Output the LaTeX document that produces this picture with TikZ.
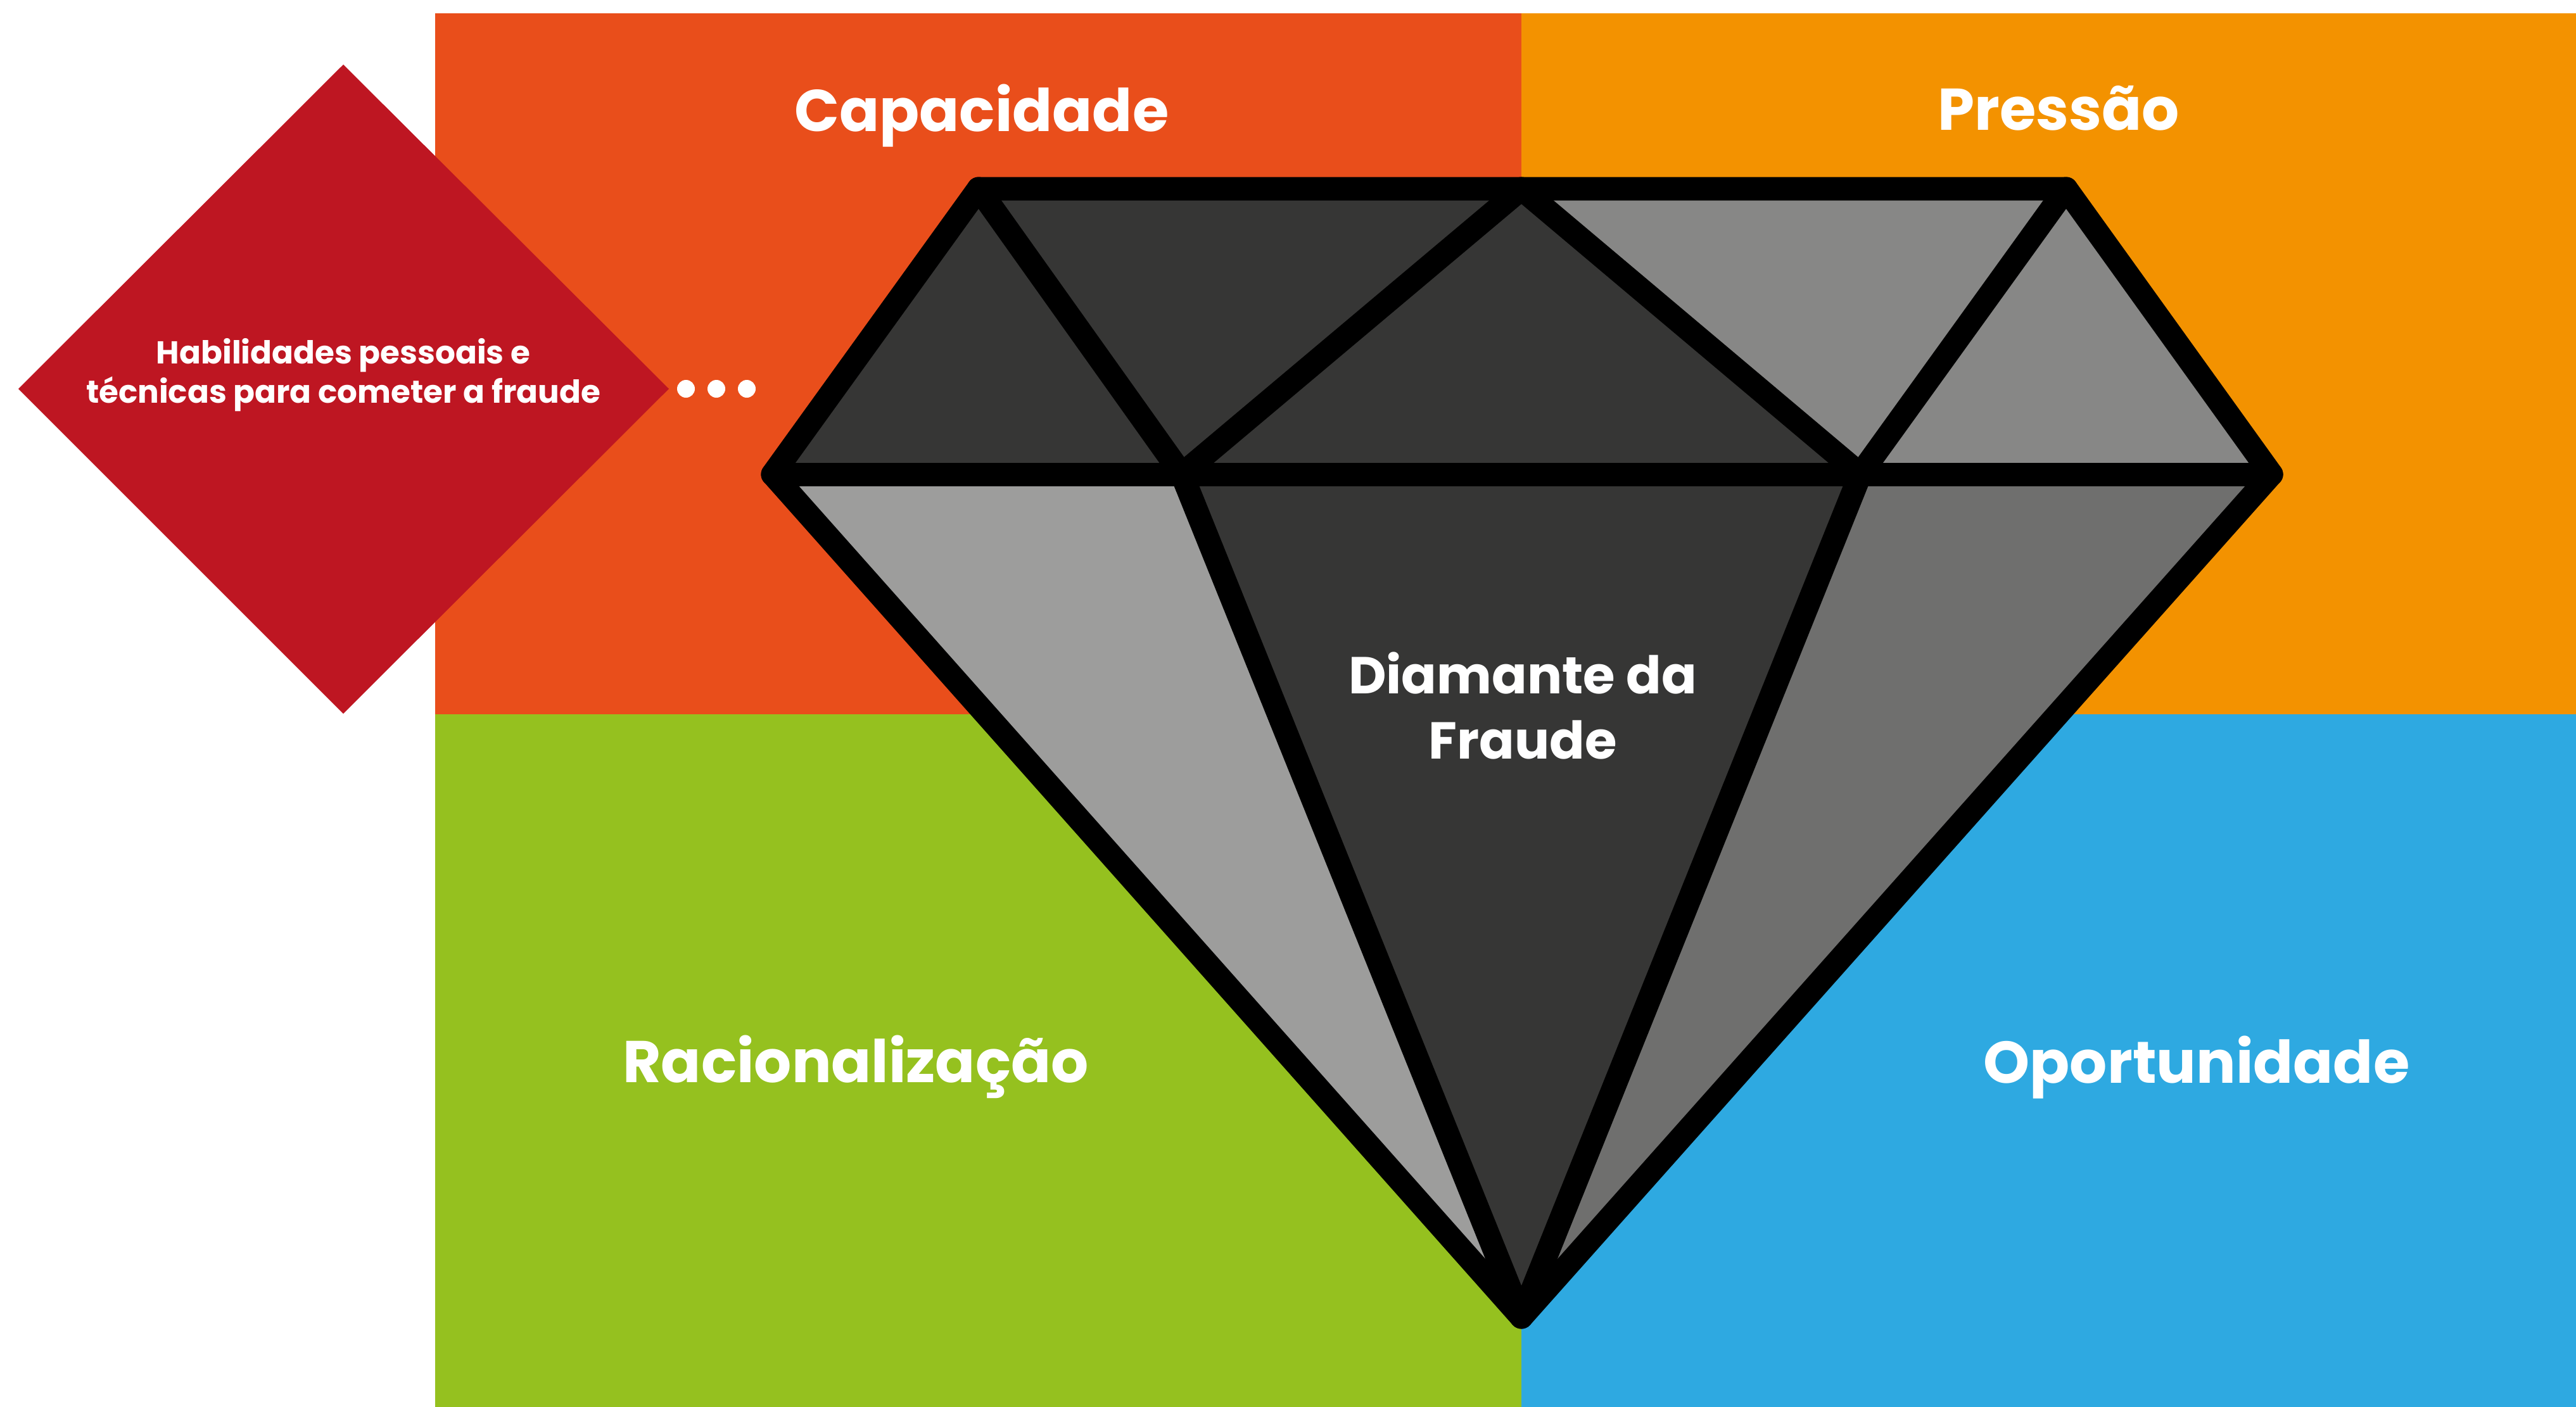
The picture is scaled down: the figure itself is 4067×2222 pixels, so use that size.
\documentclass[tikz,border=0pt]{standalone}
\usepackage{fontspec}
\setmainfont{Poppins}
\definecolor{capcol}{HTML}{E94E1B}
\definecolor{precol}{HTML}{F39200}
\definecolor{raccol}{HTML}{95C11F}
\definecolor{opocol}{HTML}{2EA9E1}
\definecolor{redcol}{HTML}{BE1622}
\definecolor{facetdark}{HTML}{363635}
\definecolor{facetlight}{HTML}{9D9D9C}
\definecolor{facetgray}{HTML}{878786}
\definecolor{facetmid}{HTML}{6F6F6E}
\tikzset{
  title/.style={text=white,font=\fontsize{93}{110}\selectfont\bfseries,anchor=base,inner sep=0pt},
  edgeline/.style={draw=black,line width=37pt,line join=round,line cap=round},
  dotnode/.style={circle,fill=white,minimum size=28pt,inner sep=0pt}
}
\begin{document}
\begin{tikzpicture}[x=1pt,y=-1pt]
\useasboundingbox (0,0) rectangle (4067,2222);
\fill[white] (0,0) rectangle (4067,2222);
% quadrants
\fill[capcol] (687,21) rectangle (2402,1128);
\fill[precol] (2402,21) rectangle (4067,1128);
\fill[raccol] (687,1128) rectangle (2402,2222);
\fill[opocol] (2402,1128) rectangle (4067,2222);
% red diamond
\fill[redcol] (542,102) -- (1056,614) -- (542,1127) -- (29,614) -- cycle;
\node[text=white,font=\fontsize{50}{62}\selectfont\bfseries,align=center,inner sep=0pt] (habil) at (542,592) {Habilidades pessoais e\\técnicas para cometer a fraude};
\node[dotnode] (d1) at (1083,614) {};
\node[dotnode] (d2) at (1131,614) {};
\node[dotnode] (d3) at (1179,614) {};
% diamond coordinates
\coordinate (TL) at (1545,298);
\coordinate (TM) at (2402,298);
\coordinate (TR) at (3262,298);
\coordinate (L) at (1220,749);
\coordinate (R) at (3586,749);
\coordinate (IL) at (1866,749);
\coordinate (IR) at (2937,749);
\coordinate (B) at (2402,2080);
% facets
\fill[facetdark] (TL) -- (L) -- (IL) -- cycle;
\fill[facetdark] (TL) -- (TM) -- (IL) -- cycle;
\fill[facetdark] (TM) -- (IL) -- (IR) -- cycle;
\fill[facetgray] (TM) -- (TR) -- (IR) -- cycle;
\fill[facetgray] (TR) -- (IR) -- (R) -- cycle;
\fill[facetlight] (L) -- (IL) -- (B) -- cycle;
\fill[facetdark] (IL) -- (IR) -- (B) -- cycle;
\fill[facetmid] (IR) -- (R) -- (B) -- cycle;
% strokes
\draw[edgeline] (TL) -- (TM) -- (TR) -- (R) -- (B) -- (L) -- cycle;
\draw[edgeline] (L) -- (R);
\draw[edgeline] (TL) -- (IL) -- (TM) -- (IR) -- (TR);
\draw[edgeline] (IL) -- (B) -- (IR);
% titles
\node[title] (cap) at (1550,207) {Capacidade};
\node[title] (pre) at (3250,205) {Pressão};
\node[title] (rac) at (1351,1709) {Racionalização};
\node[title] (opo) at (3468,1710) {Oportunidade};
\node[text=white,font=\fontsize{82}{103}\selectfont\bfseries,align=center,inner sep=0pt,anchor=base] (dia) at (2404,1198) {Diamante da\\Fraude};
\end{tikzpicture}
\end{document}
